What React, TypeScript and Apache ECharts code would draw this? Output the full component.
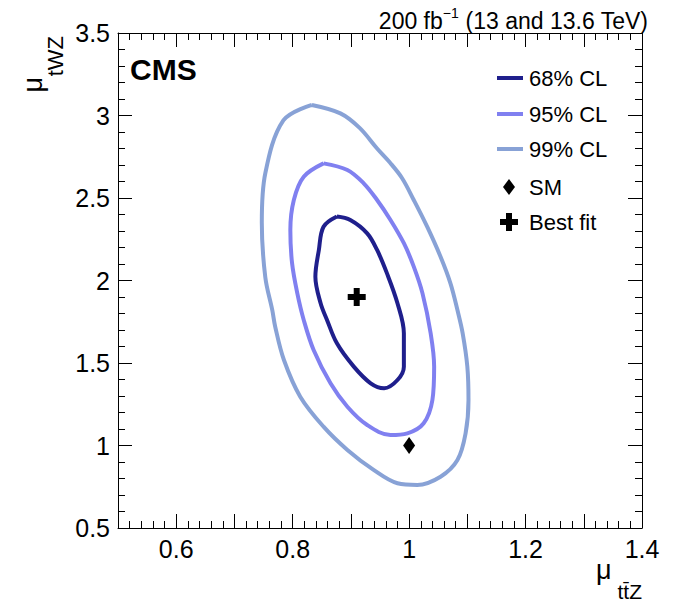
import React, { useEffect, useRef } from "react";
import * as echarts from "echarts";

// 68% CL contour (mu_ttZ, mu_tWZ)
const cl68: [number, number][] = [
  [0.876, 2.388], [0.899, 2.367], [0.928, 2.286], [0.945, 2.185], [0.962, 2.043],
  [0.980, 1.862], [0.991, 1.68], [0.991, 1.478], [0.980, 1.397], [0.957, 1.347],
  [0.934, 1.377], [0.905, 1.478], [0.876, 1.619], [0.859, 1.761], [0.848, 1.862],
  [0.839, 2.023], [0.845, 2.185], [0.853, 2.326], [0.876, 2.388],
];
// 95% CL contour
const cl95: [number, number][] = [
  [0.853, 2.71], [0.894, 2.67], [0.922, 2.589], [0.945, 2.488], [0.968, 2.367],
  [0.991, 2.226], [1.008, 2.084], [1.023, 1.922], [1.037, 1.68], [1.043, 1.478],
  [1.040, 1.276], [1.025, 1.135], [0.997, 1.074], [0.968, 1.064], [0.928, 1.124],
  [0.894, 1.235], [0.865, 1.377], [0.836, 1.579], [0.819, 1.761], [0.808, 1.922],
  [0.799, 2.104], [0.796, 2.306], [0.802, 2.488], [0.819, 2.629], [0.853, 2.71],
];
// 99% CL contour
const cl99: [number, number][] = [
  [0.833, 3.064], [0.882, 3.013], [0.915, 2.925], [0.945, 2.800], [0.967, 2.715],
  [0.988, 2.620], [1.008, 2.488], [1.031, 2.326], [1.054, 2.144], [1.071, 1.983],
  [1.083, 1.821], [1.092, 1.68], [1.100, 1.478], [1.102, 1.276], [1.097, 1.074],
  [1.083, 0.912], [1.054, 0.811], [1.014, 0.761], [0.980, 0.771], [0.939, 0.852],
  [0.894, 0.973], [0.853, 1.114], [0.813, 1.296], [0.785, 1.518], [0.770, 1.72],
  [0.765, 1.82], [0.753, 2.02], [0.747, 2.35], [0.753, 2.65], [0.784, 2.97],
  [0.833, 3.064],
];
const smPoint: [number, number][] = [[1.0, 1.0]];
const bestFit: [number, number][] = [[0.91, 1.9]];

const legendLabels = ["68% CL", "95% CL", "99% CL", "SM", "Best fit"];
const colors = ["#1f1f8c", "#8080f0", "#88a2d6"];

const FONT = "Liberation Sans, Arial, Helvetica, sans-serif";

export default function App() {
  const ref = useRef<HTMLDivElement>(null);
  useEffect(() => {
    if (!ref.current) return;
    const chart = echarts.init(ref.current, null, { renderer: "svg" });

    const axisCommon = {
      type: "value" as const,
      axisLine: { show: true, onZero: false, lineStyle: { color: "#000", width: 1 } },
      axisTick: { show: true, inside: true, length: 14, lineStyle: { color: "#000", width: 1 } },
      minorTick: { show: true, splitNumber: 5, length: 7, lineStyle: { color: "#000", width: 1 } },
      splitLine: { show: false },
      minorSplitLine: { show: false },
    };
    const xFmt = (v: number) => (Math.round(v * 10) % 2 === 0 ? String(+v.toFixed(1)) : "");
    const yFmt = (v: number) => String(+v.toFixed(1));

    const lineSeries = [cl68, cl95, cl99].map((d, i) => ({
      type: "line" as const,
      name: legendLabels[i],
      data: d,
      smooth: 0.35,
      symbol: "none",
      lineStyle: { color: colors[i], width: 4 },
      z: 3 - i,
    }));

    const legX = 497;
    const legY = [78, 114, 149, 187, 222];

    const graphic: any[] = [];
    for (let i = 0; i < 3; i++) {
      graphic.push({
        type: "line",
        shape: { x1: legX, y1: legY[i], x2: legX + 26, y2: legY[i] },
        style: { stroke: colors[i], lineWidth: 4 },
      });
    }
    graphic.push({
      type: "polygon",
      shape: { points: [[509, 187 - 8], [515, 187], [509, 187 + 8], [503, 187]] },
      style: { fill: "#000" },
    });
    const c = [509, 222];
    const a = 3, b = 9;
    graphic.push({
      type: "polygon",
      shape: {
        points: [
          [c[0] - a, c[1] - b], [c[0] + a, c[1] - b], [c[0] + a, c[1] - a], [c[0] + b, c[1] - a],
          [c[0] + b, c[1] + a], [c[0] + a, c[1] + a], [c[0] + a, c[1] + b], [c[0] - a, c[1] + b],
          [c[0] - a, c[1] + a], [c[0] - b, c[1] + a], [c[0] - b, c[1] - a], [c[0] - a, c[1] - a],
        ],
      },
      style: { fill: "#000" },
    });
    legendLabels.forEach((t, i) => {
      graphic.push({
        type: "text",
        x: 529,
        y: legY[i],
        style: { text: t, fontSize: 22, fontFamily: FONT, fill: "#000", verticalAlign: "middle", align: "left" },
      });
    });
    // CMS label
    graphic.push({
      type: "text",
      x: 130,
      y: 69,
      style: { text: "CMS", fontSize: 30, fontWeight: "bold", fontFamily: FONT, fill: "#000", verticalAlign: "middle" },
    });
    // top-right lumi label
    graphic.push({
      type: "text",
      x: 648,
      y: 19,
      style: {
        text: "{n|200 fb}{s|−1}{n| (13 and 13.6 TeV)}",
        align: "right",
        verticalAlign: "middle",
        fontFamily: FONT,
        rich: {
          n: { fontSize: 23, fontFamily: FONT, fill: "#000", lineHeight: 26, verticalAlign: "bottom" },
          s: { fontSize: 14, fontFamily: FONT, fill: "#000", lineHeight: 26, verticalAlign: "top" },
        },
      },
    });
    // x axis title
    graphic.push({
      type: "text",
      x: 596,
      y: 570,
      style: { text: "μ", fontSize: 27, fontFamily: FONT, fill: "#000", verticalAlign: "middle", align: "left" },
    });
    graphic.push({
      type: "text",
      x: 642,
      y: 591,
      style: { text: "tt\u0304Z", fontSize: 21, fontFamily: FONT, fill: "#000", verticalAlign: "middle", align: "right" },
    });
    // y axis title (rotated)
    graphic.push({
      type: "text",
      x: 33,
      y: 77,
      rotation: Math.PI / 2,
      style: { text: "μ", fontSize: 27, fontFamily: FONT, fill: "#000", verticalAlign: "middle", align: "right" },
    });
    graphic.push({
      type: "text",
      x: 55,
      y: 36,
      rotation: Math.PI / 2,
      style: { text: "tWZ", fontSize: 22, fontFamily: FONT, fill: "#000", verticalAlign: "middle", align: "right" },
    });

    chart.setOption({
      animation: false,
      backgroundColor: "#fff",
      grid: { left: 118, right: 37, top: 33, bottom: 76, containLabel: false },
      xAxis: [
        {
          ...axisCommon,
          position: "bottom",
          min: 0.5,
          max: 1.4,
          interval: 0.1,
          axisLabel: {
            show: true, formatter: xFmt, margin: 8, fontSize: 25, color: "#000", fontFamily: FONT,
            showMinLabel: true, showMaxLabel: true, hideOverlap: false,
          },
        },
        {
          ...axisCommon,
          position: "top",
          min: 0.5,
          max: 1.4,
          interval: 0.1,
          axisLabel: { show: false },
        },
      ],
      yAxis: [
        {
          ...axisCommon,
          position: "left",
          min: 0.5,
          max: 3.5,
          interval: 0.5,
          axisLabel: {
            show: true, formatter: yFmt, margin: 8, fontSize: 25, color: "#000", fontFamily: FONT,
            showMinLabel: true, showMaxLabel: true,
          },
        },
        {
          ...axisCommon,
          position: "right",
          min: 0.5,
          max: 3.5,
          interval: 0.5,
          axisLabel: { show: false },
        },
      ],
      series: [
        ...lineSeries,
        {
          type: "scatter",
          name: "SM",
          data: smPoint,
          symbol: "diamond",
          symbolSize: [12, 17],
          itemStyle: { color: "#000", opacity: 1 },
          z: 5,
        },
        {
          type: "scatter",
          name: "Best fit",
          data: bestFit,
          symbol: "path://M1,0H2V1H3V2H2V3H1V2H0V1H1Z",
          symbolSize: 18,
          itemStyle: { color: "#000", opacity: 1 },
          z: 5,
        },
      ],
      graphic,
    });
    return () => chart.dispose();
  }, []);
  return <div ref={ref} style={{ width: 679, height: 604, marginLeft: -8, marginTop: -8 }} />;
}
